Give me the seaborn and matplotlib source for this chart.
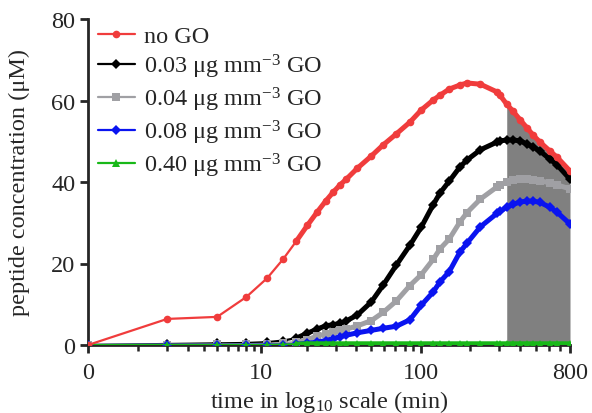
import numpy as np
import pandas as pd
import matplotlib
matplotlib.use("Agg")
import matplotlib.pyplot as plt
import seaborn as sns
from matplotlib.ticker import FixedLocator, NullFormatter

# ---- data ----
time_min = [0, 2, 5, 8, 11, 14, 17, 20, 23, 26, 29, 32, 35, 41, 50, 59, 71, 86, 101,
            119, 131, 149, 173, 191, 230, 290, 302, 332, 362, 401, 440, 479, 527,
            605, 668, 800]
no_go = [0, 6.4, 6.9, 11.8, 16.4, 21.1, 25.5, 29.4, 32.6, 35.3, 37.5, 39.3, 40.7,
         43.4, 46.4, 49.1, 51.8, 54.7, 57.7, 60.1, 61.3, 62.8, 63.8, 64.3, 64.0,
         62.1, 61.3, 59.1, 57.4, 55.2, 53.3, 51.5, 49.8, 47.6, 46.1, 42.7]
go_003 = [0, 0.25, 0.4, 0.5, 0.7, 1.1, 1.7, 2.9, 3.9, 4.7, 5.0, 5.3, 5.9, 7.4,
          10.6, 14.7, 19.6, 24.5, 29.0, 34.4, 37.3, 40.2, 43.7, 45.4, 47.9, 49.8,
          50.1, 50.3, 50.3, 50.1, 49.3, 48.6, 47.6, 45.6, 44.2, 40.7]
go_004 = [0, 0.1, 0.15, 0.2, 0.3, 0.5, 0.7, 1.3, 2.2, 2.7, 3.1, 3.6, 3.9, 4.7,
          6.0, 8.0, 10.8, 14.6, 17.3, 21.0, 23.6, 26.0, 30.2, 32.5, 35.8, 38.8,
          39.3, 40.0, 40.4, 40.7, 40.7, 40.5, 40.3, 39.8, 39.3, 38.3]
go_008 = [0, 0.05, 0.05, 0.05, 0.1, 0.1, 0.2, 0.4, 0.7, 1.1, 1.5, 2.0, 2.4, 3.0,
          3.6, 4.1, 4.6, 6.2, 9.8, 13.0, 15.5, 18.0, 22.8, 25.0, 29.0, 32.3,
          32.8, 33.8, 34.5, 35.1, 35.3, 35.3, 35.0, 33.8, 32.6, 29.7]
go_040 = [0, 0, 0, 0, 0, 0.1, 0.2, 0.3, 0.3, 0.3, 0.3, 0.3, 0.3, 0.3, 0.3, 0.3,
          0.3, 0.3, 0.3, 0.3, 0.3, 0.3, 0.3, 0.3, 0.3, 0.3, 0.3, 0.3, 0.3, 0.3,
          0.3, 0.3, 0.3, 0.3, 0.3, 0.3]
shade_start = 332

labels = ["no GO",
          "0.03 μg mm$^{-3}$ GO",
          "0.04 μg mm$^{-3}$ GO",
          "0.08 μg mm$^{-3}$ GO",
          "0.40 μg mm$^{-3}$ GO"]
colors = ["#f03c3c", "#000000", "#a0a0a4", "#0a14f0", "#18b818"]
markers = ["o", "D", "s", "D", "^"]
series = [no_go, go_003, go_004, go_008, go_040]

# ---- style ----
sns.set_style("ticks")
plt.rcParams["font.family"] = ["Liberation Serif", "DejaVu Serif"]
plt.rcParams["mathtext.fontset"] = "custom"
plt.rcParams["mathtext.rm"] = "Liberation Serif"
plt.rcParams["mathtext.it"] = "Liberation Serif:italic"
plt.rcParams["axes.unicode_minus"] = True

FS = 17.5
fig = plt.figure(figsize=(5.92, 4.14), dpi=100)
ax = fig.add_axes([88 / 592, (414 - 346) / 414, (570 - 88) / 592, (346 - 20) / 414])

t = np.array(time_min, dtype=float)
ax.set_xscale("function", functions=(lambda x: np.log10(np.maximum(x, 0) + 1),
                                     lambda y: 10 ** y - 1))

# shaded region under the no-GO curve
mask = t >= shade_start
ax.fill_between(t[mask], 0, np.array(no_go)[mask], color="#808080", lw=0, zorder=1)

order = [1, 2, 3, 4, 0]
for i in order:
    df = pd.DataFrame({"t": t, "c": series[i]})
    z = 4 if i == 0 else 3 + i * 0.1
    sns.lineplot(data=df, x="t", y="c", ax=ax, color=colors[i], marker=markers[i],
                 markersize=5.5, markeredgewidth=0, lw=1.6, label=labels[i], zorder=z)
    sub = df[df["t"] >= 17]
    sns.lineplot(data=sub, x="t", y="c", ax=ax, color=colors[i], lw=3.6,
                 legend=False, zorder=z)

ax.set_xlim(0, 800)
ax.set_ylim(0, 80)
ax.set_xticks([0, 10, 100, 800])
ax.set_xticklabels(["0", "10", "100", "800"])
minor = list(range(1, 10)) + list(range(20, 100, 10)) + list(range(200, 800, 100))
ax.xaxis.set_minor_locator(FixedLocator(minor))
ax.xaxis.set_minor_formatter(NullFormatter())
ax.set_yticks([0, 20, 40, 60, 80])

for s in ["top", "right"]:
    ax.spines[s].set_visible(False)
for s in ["left", "bottom"]:
    ax.spines[s].set_linewidth(2.0)
ax.tick_params(axis="both", which="major", length=6, width=2.0, labelsize=FS,
               direction="out")
ax.tick_params(axis="x", which="major", pad=6)
ax.tick_params(axis="y", which="major", pad=3)
ax.tick_params(axis="x", which="minor", length=4, width=1.8, direction="out")

ax.set_xlabel("time in log$_{10}$ scale (min)", fontsize=FS, labelpad=4)
ax.set_ylabel("peptide concentration (μM)", fontsize=FS, labelpad=15)

handles, labs = ax.get_legend_handles_labels()
hmap = dict(zip(labs, handles))
ax.legend([hmap[l] for l in labels], labels, loc="upper left",
          bbox_to_anchor=(0.021, 0.981), frameon=False, fontsize=FS,
          handlelength=1.5, handletextpad=0.4, labelspacing=0.2,
          borderpad=0, borderaxespad=0)

fig.savefig("out.png", dpi=100)
